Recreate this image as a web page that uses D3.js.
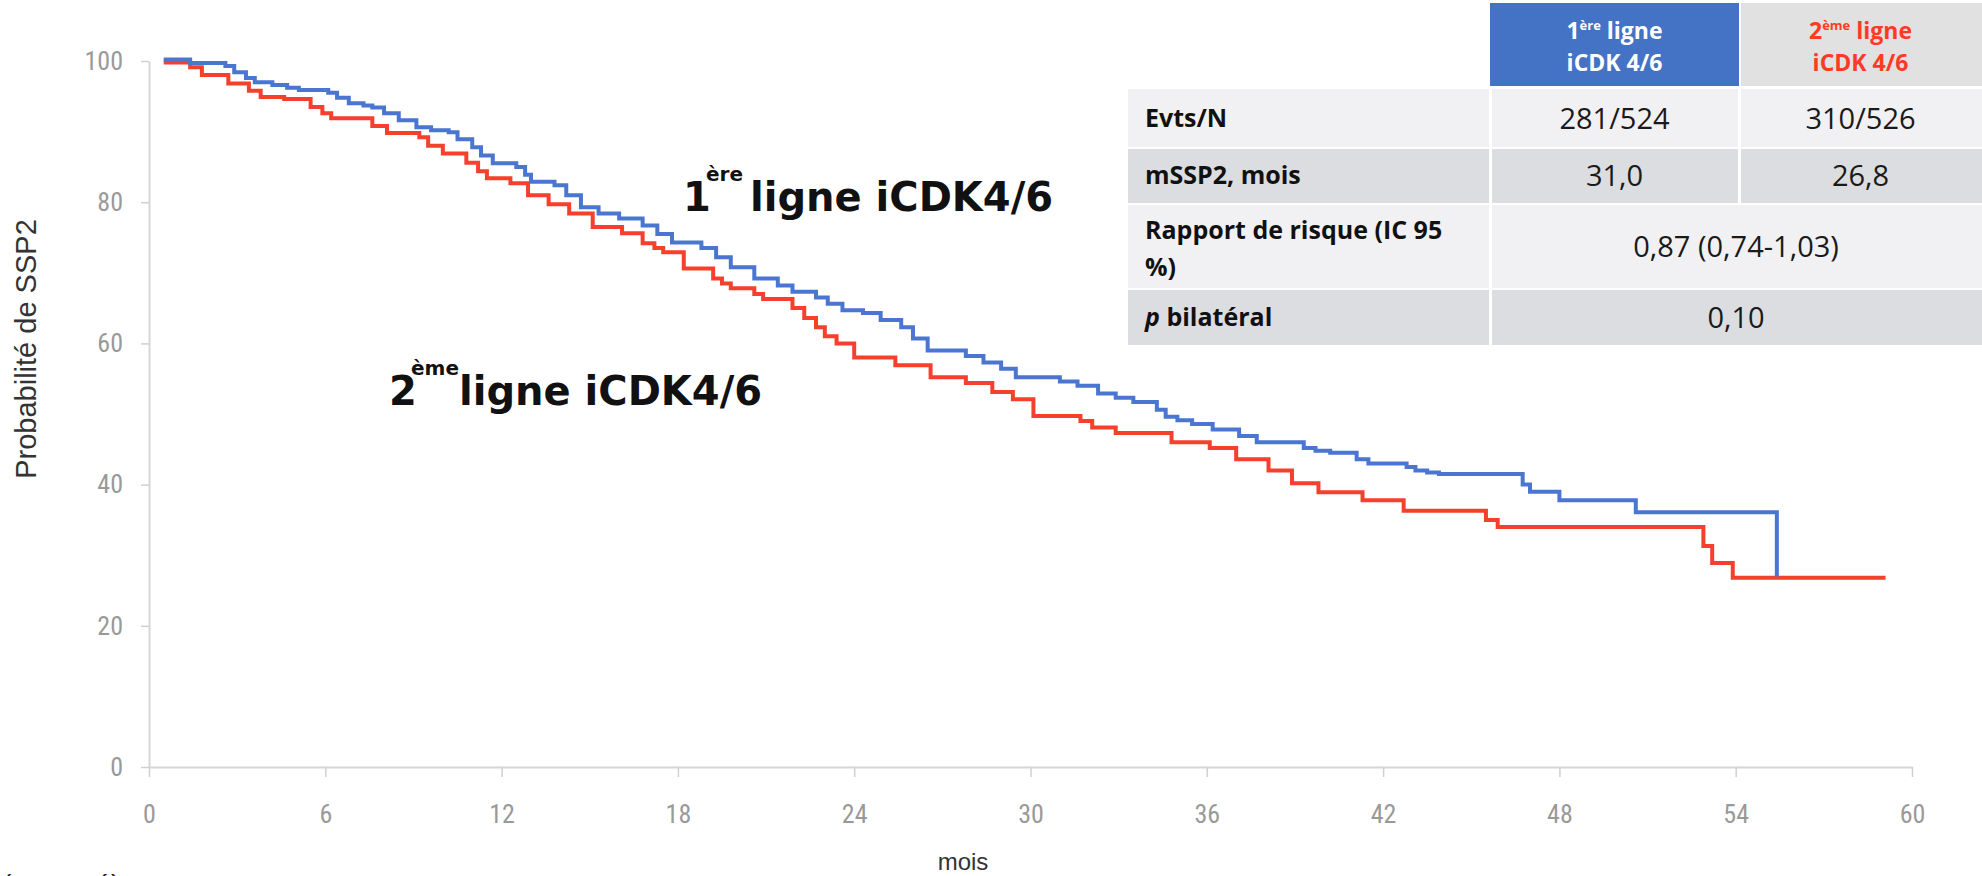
<!DOCTYPE html>
<html>
<head>
<meta charset="utf-8">
<script src="https://cdn.jsdelivr.net/npm/d3@7"></script>
<style>
  body { margin: 0; background: #fff; }
  svg { display: block; }
</style>
</head>
<body>
<svg id="chart" width="1982" height="876"></svg>
<script>
// Kaplan-Meier curves: [month, probability %]
const firstLine = [
  [0.5, 100.2], [1.4, 99.7], [2.6, 99.3], [2.9, 98.4], [3.3, 97.6], [3.6, 97.0],
  [4.2, 96.6], [4.7, 96.2], [5.1, 95.9], [6.1, 95.5], [6.4, 94.8], [6.8, 94.0],
  [7.3, 93.7], [7.6, 93.4], [8.0, 92.6], [8.5, 91.6], [9.1, 90.6], [9.6, 90.2],
  [10.2, 89.9], [10.5, 88.9], [11.0, 87.8], [11.3, 86.6], [11.7, 85.5], [12.5, 85.0],
  [12.8, 83.9], [13.0, 82.9], [13.8, 82.4], [14.2, 81.0], [14.7, 79.3], [15.3, 78.4],
  [16.0, 77.7], [16.8, 76.7], [17.3, 75.5], [17.8, 74.3], [18.8, 73.5], [19.3, 72.2],
  [19.8, 70.8], [20.6, 69.2], [21.4, 68.2], [21.9, 67.3], [22.7, 66.5], [23.1, 65.6],
  [23.6, 64.7], [24.3, 64.3], [24.9, 63.3], [25.6, 62.3], [26.0, 60.7], [26.5, 59.0],
  [27.8, 58.2], [28.4, 57.3], [29.0, 56.4], [29.5, 55.2], [31.0, 54.6], [31.6, 54.0],
  [32.3, 52.9], [32.9, 52.3], [33.5, 51.7], [34.3, 50.6], [34.6, 49.6], [35.0, 49.1],
  [35.5, 48.6], [36.2, 47.8], [37.1, 46.9], [37.7, 46.0], [39.3, 45.2], [39.7, 44.8],
  [40.2, 44.5], [41.1, 43.6], [41.5, 43.0], [42.8, 42.5], [43.1, 42.0], [43.5, 41.7],
  [43.9, 41.5], [46.75, 40.0], [47.0, 39.0], [48.0, 37.8], [50.6, 36.1], [55.4, 27.0]
];

const secondLine = [
  [0.5, 99.8], [1.4, 99.1], [1.8, 98.0], [2.7, 96.8], [3.4, 95.8], [3.8, 94.9],
  [4.6, 94.6], [5.5, 93.5], [5.9, 92.6], [6.2, 91.9], [7.6, 90.8], [8.1, 89.8],
  [9.2, 89.2], [9.5, 88.0], [10.0, 86.9], [10.8, 85.6], [11.2, 84.4], [11.5, 83.4],
  [12.3, 82.7], [12.9, 81.0], [13.6, 79.7], [14.3, 78.4], [15.1, 76.5], [16.1, 75.6],
  [16.8, 74.2], [17.2, 73.5], [17.5, 72.9], [18.2, 70.6], [19.2, 69.2], [19.5, 68.5],
  [19.8, 67.8], [20.6, 67.0], [20.9, 66.3], [21.9, 65.0], [22.3, 63.6], [22.7, 62.3],
  [23.0, 61.0], [23.4, 60.0], [24.0, 58.0], [25.4, 56.9], [26.6, 55.2], [27.8, 54.4],
  [28.7, 53.1], [29.4, 52.1], [30.1, 49.7], [31.7, 49.0], [32.1, 48.1], [32.9, 47.3],
  [34.8, 46.0], [36.1, 45.2], [37.0, 43.6], [38.1, 42.0], [38.9, 40.2], [39.8, 38.9],
  [41.3, 37.8], [42.7, 36.3], [45.5, 35.0], [45.9, 34.0], [52.9, 31.3], [53.2, 28.9],
  [53.9, 26.8], [59.1, 26.8]
];

const xTicks = [0, 6, 12, 18, 24, 30, 36, 42, 48, 54, 60];
const yTicks = [0, 20, 40, 60, 80, 100];

// table content
const rowLabels = ['Evts/N', 'mSSP2, mois', 'Rapport de risque (IC 95', 'p bilatéral'];
const firstLineStats = ['281/524', '31,0'];
const secondLineStats = ['310/526', '26,8'];
const hazardRatio = '0,87 (0,74-1,03)';
const pValue = '0,10';

const blue = '#4a76d2';
const red = '#f4402c';

const svg = d3.select('#chart');
svg.append('rect').attr('width', 1982).attr('height', 876).attr('fill', '#fff');

const x = d3.scaleLinear().domain([0, 60]).range([149, 1912]);
const y = d3.scaleLinear().domain([0, 100]).range([767, 61]);

const tickFont = '"Liberation Sans Narrow", "Roboto Condensed", "Arial Narrow", sans-serif';

// x axis
const xAxis = svg.append('g')
  .attr('transform', 'translate(0,' + y(0) + ')')
  .call(d3.axisBottom(x).tickValues(xTicks).tickSize(10).tickSizeOuter(0).tickPadding(28));

// y axis
const yAxis = svg.append('g')
  .attr('transform', 'translate(' + x(0) + ',0)')
  .call(d3.axisLeft(y).tickValues(yTicks).tickSize(8).tickSizeOuter(0).tickPadding(18));

[xAxis, yAxis].forEach(a => {
  a.select('.domain').attr('stroke', '#d6d6d6').attr('stroke-width', 2);
  a.selectAll('.tick line').attr('stroke', '#d0d0d0').attr('stroke-width', 1.5);
  a.selectAll('.tick text')
    .attr('fill', '#999')
    .style('font-family', tickFont)
    .style('font-size', '26px');
});

// axis titles
svg.append('text')
  .attr('transform', 'translate(36,349) rotate(-90)')
  .attr('text-anchor', 'middle')
  .style('font-family', '"Liberation Sans", Arial, sans-serif')
  .style('font-size', '29px')
  .attr('fill', '#333')
  .text('Probabilité de SSP2');

svg.append('text')
  .attr('x', 963)
  .attr('y', 870)
  .attr('text-anchor', 'middle')
  .style('font-family', '"Liberation Sans", Arial, sans-serif')
  .style('font-size', '24px')
  .attr('fill', '#333')
  .text('mois');

// note cut by the bottom edge, as in the source
svg.append('text')
  .attr('x', 2)
  .attr('y', 894)
  .style('font-family', '"Liberation Sans", Arial, sans-serif')
  .style('font-size', '28px')
  .attr('fill', '#222')
  .text('(censuré)');

// curves
const line = d3.line()
  .x(d => x(d[0]))
  .y(d => y(d[1]))
  .curve(d3.curveStepAfter);

svg.append('path')
  .datum(secondLine)
  .attr('d', line)
  .attr('fill', 'none')
  .attr('stroke', red)
  .attr('stroke-width', 4);

svg.append('path')
  .datum(firstLine)
  .attr('d', line)
  .attr('fill', 'none')
  .attr('stroke', blue)
  .attr('stroke-width', 4);

// curve annotations
function annotate(num, sup, rest, x0, xs, x1, base) {
  const g = svg.append('g')
    .style('font-family', '"DejaVu Sans", sans-serif')
    .style('font-weight', 'bold')
    .attr('fill', '#111');
  g.append('text').attr('x', x0).attr('y', base).style('font-size', '40px').text(num);
  g.append('text').attr('x', xs).attr('y', base - 30).style('font-size', '20px').text(sup);
  g.append('text').attr('x', x1).attr('y', base).style('font-size', '40px').text(rest);
}
annotate('1', 'ère', 'ligne iCDK4/6', 683, 706, 750, 211);
annotate('2', 'ème', 'ligne iCDK4/6', 389, 411, 459, 405);

// results table
const tX = 1128, c1 = 1490, c2 = 1739, tR = 1982;
const rowsY = [[89, 147], [149, 203], [205, 288], [290, 345]];
const rowFill = ['#f1f1f3', '#dcdde1', '#f1f1f3', '#dcdde1'];
const tbl = svg.append('g').style('font-family', '"Open Sans", sans-serif');

tbl.append('rect').attr('x', c1).attr('y', 3).attr('width', c2 - c1).attr('height', 83).attr('fill', '#4472c4');
tbl.append('rect').attr('x', c2 + 2).attr('y', 3).attr('width', tR - c2 - 2).attr('height', 83).attr('fill', '#e1e1e1');

function header(cx, num, sup, color) {
  const t = tbl.append('text').attr('x', cx).attr('y', 39).attr('text-anchor', 'middle')
    .attr('fill', color).style('font-weight', 'bold').style('font-size', '23px');
  t.append('tspan').text(num);
  t.append('tspan').attr('dy', -9).style('font-size', '13px').text(sup);
  t.append('tspan').attr('dy', 9).text(' ligne');
  tbl.append('text').attr('x', cx).attr('y', 71).attr('text-anchor', 'middle')
    .attr('fill', color).style('font-weight', 'bold').style('font-size', '23px')
    .text('iCDK 4/6');
}
header((c1 + c2) / 2, '1', 'ère', '#fff');
header((c2 + tR) / 2, '2', 'ème', '#ff3a24');

rowsY.forEach((r, i) => {
  tbl.append('rect').attr('x', tX).attr('y', r[0]).attr('width', tR - tX).attr('height', r[1] - r[0])
    .attr('fill', rowFill[i]);
  const dividers = i < 2 ? [c1, c2] : [c1];
  dividers.forEach(c => {
    tbl.append('rect').attr('x', c - 1).attr('y', r[0]).attr('width', 3).attr('height', r[1] - r[0]).attr('fill', '#fff');
  });
});

const labelStyle = t => t.attr('fill', '#111').style('font-weight', 'bold').style('font-size', '25px');
const valueStyle = t => t.attr('fill', '#1a1a1a').style('font-size', '29px').attr('text-anchor', 'middle');

labelStyle(tbl.append('text').attr('x', 1145).attr('y', 127)).text(rowLabels[0]);
labelStyle(tbl.append('text').attr('x', 1145).attr('y', 184)).text(rowLabels[1]);
labelStyle(tbl.append('text').attr('x', 1145).attr('y', 239)).text(rowLabels[2]);
labelStyle(tbl.append('text').attr('x', 1145).attr('y', 276)).text('%)');
const pLabel = labelStyle(tbl.append('text').attr('x', 1145).attr('y', 326));
pLabel.append('tspan').style('font-style', 'italic').text(rowLabels[3].split(' ')[0]);
pLabel.append('tspan').text(' ' + rowLabels[3].split(' ')[1]);

valueStyle(tbl.append('text').attr('x', (c1 + c2) / 2).attr('y', 129)).text(firstLineStats[0]);
valueStyle(tbl.append('text').attr('x', (c2 + tR) / 2).attr('y', 129)).text(secondLineStats[0]);
valueStyle(tbl.append('text').attr('x', (c1 + c2) / 2).attr('y', 186)).text(firstLineStats[1]);
valueStyle(tbl.append('text').attr('x', (c2 + tR) / 2).attr('y', 186)).text(secondLineStats[1]);
valueStyle(tbl.append('text').attr('x', (c1 + tR) / 2).attr('y', 257)).text(hazardRatio);
valueStyle(tbl.append('text').attr('x', (c1 + tR) / 2).attr('y', 328)).text(pValue);
</script>
</body>
</html>
